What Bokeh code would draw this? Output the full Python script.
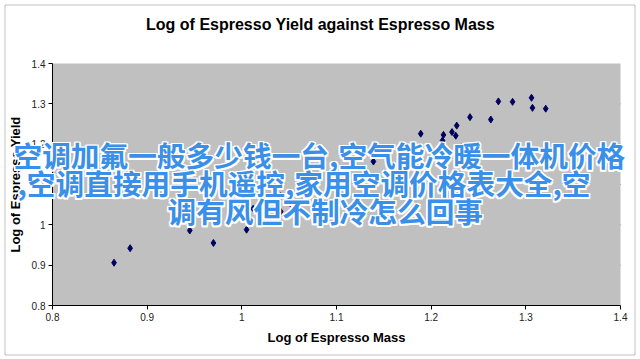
from bokeh.plotting import figure
from bokeh.models import FixedTicker, CustomJSTickFormatter, Label, Range1d, BoxAnnotation
from bokeh.embed import file_html
from bokeh.resources import INLINE

# ---- data ----
mass = [0.865, 0.882, 0.945, 0.970, 1.005, 1.012, 1.028, 1.041, 1.041, 1.051,
        1.079, 1.110, 1.139, 1.173, 1.189, 1.200, 1.212, 1.213, 1.222, 1.226,
        1.227, 1.232, 1.241, 1.263, 1.271, 1.286, 1.306, 1.307, 1.321]
yld = [0.906, 0.942, 0.986, 0.955, 0.988, 1.040, 1.054, 1.071, 1.033, 1.054,
       1.037, 1.087, 1.157, 1.145, 1.226, 1.182, 1.209, 1.223, 1.230, 1.221,
       1.246, 1.192, 1.267, 1.261, 1.306, 1.305, 1.315, 1.290, 1.288]
ticks = [0.8, 0.9, 1.0, 1.1, 1.2, 1.3, 1.4]
title_text = "Log of Espresso Yield against Espresso Mass"
x_label = "Log of Espresso Mass"
y_label = "Log of Espresso Yield"
overlay_lines = ["空调加氟一般多少钱一台,空气能冷暖一体机价格",
                 ",空调直接用手机遥控,家用空调价格表大全,空",
                 "调有风但不制冷怎么回事"]

W, H = 640, 359
# plot-area box in pixels (left, right, top, bottom)
PL, PR, PT, PB = 52, 620, 63, 305
lo, hi = ticks[0], ticks[-1]
kx = (PR - PL) / (hi - lo)
ky = (PB - PT) / (hi - lo)
x_range = Range1d(lo - PL / kx, hi + (W - PR) / kx)
y_range = Range1d(lo - (H - PB) / ky, hi + PT / ky)

p = figure(width=W, height=H, output_backend="svg", toolbar_location=None,
           x_range=x_range, y_range=y_range, min_border=0)
p.title.visible = False
p.background_fill_color = "white"
p.border_fill_color = "white"
p.outline_line_color = None
p.xgrid.visible = False
p.ygrid.visible = False

# grey plot area
p.add_layout(BoxAnnotation(left=lo, right=hi, bottom=lo, top=hi,
                           fill_color="#c0c0c0", fill_alpha=1, line_color=None,
                           level="underlay"))
# horizontal grid lines
grid_y = ticks[1:-1]
p.segment(x0=[lo] * len(grid_y), x1=[hi] * len(grid_y), y0=grid_y, y1=grid_y,
          line_color="#3c3c3c", line_width=1, level="underlay")

fmt = CustomJSTickFormatter(code="return tick.toFixed(1).replace(/\\.0$/, '');")
for ax in (p.xaxis[0], p.yaxis[0]):
    ax.ticker = FixedTicker(ticks=ticks)
    ax.formatter = fmt
    ax.fixed_location = lo
    ax.bounds = (lo, hi)
    ax.axis_line_color = "black"
    ax.major_tick_line_color = "black"
    ax.major_tick_out = 4
    ax.major_tick_in = 0
    ax.minor_tick_line_color = None
    ax.major_label_text_font = "Liberation Sans"
    ax.major_label_text_font_size = "10px"
    ax.major_label_text_color = "#222222"
    ax.axis_label_text_font = "Liberation Sans"
    ax.axis_label_text_font_size = "13px"
    ax.axis_label_text_font_style = "bold"
    ax.axis_label_text_color = "black"

p.xaxis.axis_label = x_label
p.yaxis.axis_label = y_label
p.xaxis.major_label_standoff = 3
p.xaxis.axis_label_standoff = 6
p.yaxis.major_label_standoff = 3
p.yaxis.axis_label_standoff = 6

p.scatter(mass, yld, marker="diamond", size=7, color="#000060")

# chart title
p.add_layout(Label(x=320, y=H - 24, x_units="screen", y_units="screen", text=title_text,
                   text_font="Liberation Sans", text_font_size="16px",
                   text_font_style="bold", text_color="black",
                   text_align="center", text_baseline="middle"))

# outer chart border
p.add_layout(BoxAnnotation(left=4.5, right=634.5, bottom=H - 354.5, top=H - 4.5,
                           left_units="screen", right_units="screen",
                           top_units="screen", bottom_units="screen",
                           fill_alpha=0, line_color="#333333", line_width=1,
                           level="overlay"))

# overlay text with white outline
pos = [(13, H - 154), (17, H - 182), (167, H - 210)]
offs = [(-1.5, -1.5), (-1.5, 0), (-1.5, 1.5), (0, -1.5), (0, 1.5), (1.5, -1.5), (1.5, 0), (1.5, 1.5)]
for (lx, ly), line in zip(pos, overlay_lines):
    for dx, dy in offs:
        p.add_layout(Label(x=lx, y=ly, x_units="screen", y_units="screen", text=line,
                           x_offset=dx, y_offset=dy, level="overlay",
                           text_font="Noto Sans CJK SC", text_font_size="28.7px",
                           text_font_style="bold", text_color="white",
                           text_baseline="middle", text_align="left"))
    p.add_layout(Label(x=lx, y=ly, x_units="screen", y_units="screen", text=line,
                       level="overlay",
                       text_font="Noto Sans CJK SC", text_font_size="28.7px",
                       text_font_style="bold", text_color="#3a8fe8",
                       text_baseline="middle", text_align="left"))

open("out.html", "w").write(file_html(p, INLINE))
